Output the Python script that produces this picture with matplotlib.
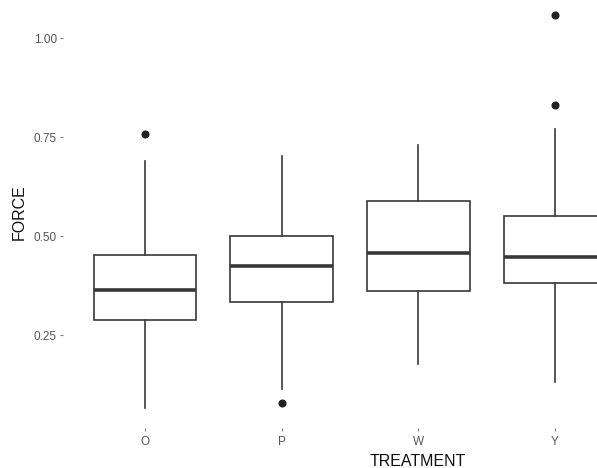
import matplotlib
matplotlib.use('Agg')
import matplotlib.pyplot as plt

# Werte
treatments = ['O', 'P', 'W', 'Y']
whisker_low = [0.066, 0.116, 0.177, 0.133]
q1 = [0.290, 0.335, 0.362, 0.383]
median = [0.365, 0.426, 0.458, 0.4475]
q3 = [0.4525, 0.501, 0.589, 0.5525]
whisker_high = [0.691, 0.703, 0.731, 0.771]
outliers = [[0.759], [0.080], [], [0.832, 1.059]]

yticks = [0.25, 0.50, 0.75, 1.00]
ytick_labels = ['0.25', '0.50', '0.75', '1.00']

plt.rcParams['font.family'] = ['Liberation Sans', 'DejaVu Sans']

W, H = 597, 468
fig = plt.figure(figsize=(W / 100, H / 100), dpi=100)

# Panel wie im Scan: rechts und oben abgeschnitten
left_px, right_px, top_px, bottom_px = 63, 637, -4.6, 428
ax = fig.add_axes([left_px / W, 1 - bottom_px / H,
                   (right_px - left_px) / W, (bottom_px - top_px) / H])

stats = []
for i, t in enumerate(treatments):
    stats.append({
        'label': t,
        'whislo': whisker_low[i],
        'q1': q1[i],
        'med': median[i],
        'q3': q3[i],
        'whishi': whisker_high[i],
        'fliers': outliers[i],
    })

line_col = '#383838'
ax.bxp(stats, positions=range(1, len(treatments) + 1), widths=0.75,
       showcaps=False, patch_artist=True,
       boxprops=dict(facecolor='white', edgecolor=line_col, linewidth=1.2),
       medianprops=dict(color=line_col, linewidth=2.6, solid_capstyle='butt'),
       whiskerprops=dict(color=line_col, linewidth=1.2),
       flierprops=dict(marker='o', markerfacecolor='#222222',
                       markeredgecolor='#222222', markersize=4.8))

ymin = min(min(whisker_low), min(min(o) for o in outliers if o))
ymax = max(max(whisker_high), max(max(o) for o in outliers if o))
pad = 0.05 * (ymax - ymin)
ax.set_ylim(ymin - pad, ymax + pad)
ax.set_xlim(0.4, len(treatments) + 0.6)

ax.set_yticks(yticks)
ax.set_yticklabels(ytick_labels)
ax.set_xticks(range(1, len(treatments) + 1))
ax.set_xticklabels(treatments)

for s in ax.spines.values():
    s.set_visible(False)
ax.tick_params(axis='both', colors='#7a7a7a', labelcolor='#555555',
               labelsize=8.5, length=2.5, width=0.8, pad=2)
ax.tick_params(axis='x', pad=3)

ax.set_ylabel('FORCE', fontsize=11.5, color='#111111', labelpad=5)
ax.set_xlabel('TREATMENT', fontsize=11.5, color='#111111')
ax.xaxis.set_label_coords((418 - left_px) / (right_px - left_px), -0.06)

plt.savefig('out.png', dpi=100)
plt.close()
